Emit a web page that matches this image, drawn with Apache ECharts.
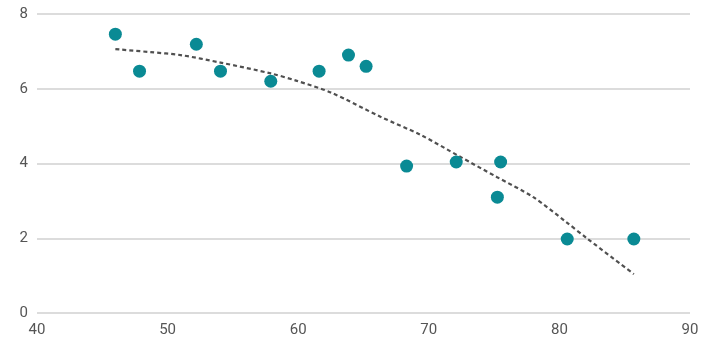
<!DOCTYPE html>
<html>
<head>
<meta charset="utf-8">
<script src="https://cdn.jsdelivr.net/npm/echarts@6/dist/echarts.min.js"></script>
<style>
  html, body { margin: 0; padding: 0; background: #fff; }
  #chart { width: 713px; height: 349px; }
</style>
</head>
<body>
<div id="chart"></div>
<script>
// scatter points
const pointX = [46.0, 47.85, 52.2, 54.05, 57.9, 61.6, 63.85, 65.2, 68.3, 72.1, 75.5, 75.25, 80.6, 85.7];
const pointY = [7.46, 6.47, 7.19, 6.47, 6.2, 6.47, 6.9, 6.6, 3.93, 4.04, 4.04, 3.1, 1.98, 1.98];

// dashed trend curve
const trendX = [46.0, 48.7, 51.0, 54.05, 57.9, 59.9, 62.5, 66.3, 69.4, 72.4, 75.2, 78.0, 80.5, 82.1, 85.7];
const trendY = [7.06, 6.98, 6.90, 6.70, 6.41, 6.21, 5.90, 5.25, 4.76, 4.18, 3.64, 3.10, 2.44, 2.00, 1.04];

const xTicks = { min: 40, max: 90, step: 10 };
const yTicks = { min: 0, max: 8, step: 2 };

const font = "'Arial Narrow', 'Liberation Sans Narrow', 'Roboto', sans-serif";

const chart = echarts.init(document.getElementById('chart'));
chart.setOption({
    animation: false,
    grid: { left: 37, right: 23, top: 14, bottom: 36 },
    xAxis: {
        type: 'value',
        min: xTicks.min,
        max: xTicks.max,
        interval: xTicks.step,
        axisLine: { show: false },
        axisTick: { show: false },
        splitLine: { show: false },
        axisLabel: { color: '#555', fontSize: 15, fontFamily: font, margin: 10 }
    },
    yAxis: {
        type: 'value',
        min: yTicks.min,
        max: yTicks.max,
        interval: yTicks.step,
        axisLine: { show: false },
        axisTick: { show: false },
        splitLine: { lineStyle: { color: '#d0d0d0', width: 1.5 } },
        axisLabel: { color: '#555', fontSize: 15, fontFamily: font, margin: 9 }
    },
    series: [
        {
            type: 'line',
            data: trendX.map((x, i) => [x, trendY[i]]),
            smooth: 0.3,
            showSymbol: false,
            lineStyle: { color: '#505050', width: 2.2, type: [4, 3] },
            z: 1
        },
        {
            type: 'scatter',
            data: pointX.map((x, i) => [x, pointY[i]]),
            symbolSize: 13,
            itemStyle: { color: '#0a8a94', opacity: 1 },
            z: 2
        }
    ]
});
</script>
</body>
</html>
